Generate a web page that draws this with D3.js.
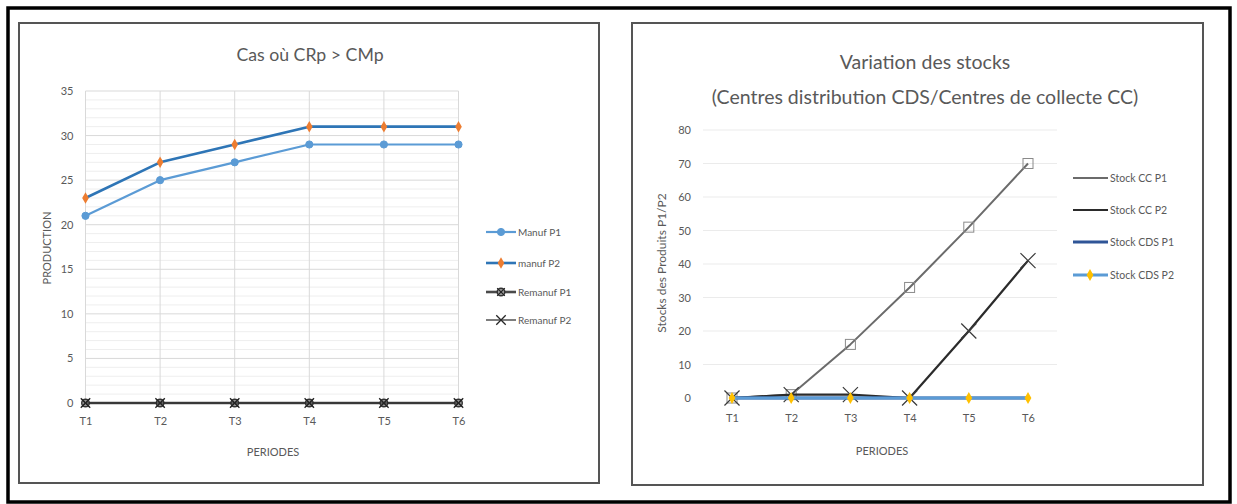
<!DOCTYPE html>
<html><head><meta charset="utf-8">
<script src="https://cdn.jsdelivr.net/npm/d3@7"></script>
<style>
html,body{margin:0;padding:0;background:#fff;}
svg{display:block;}
text{font-family:"Lato","Noto Sans",sans-serif;fill:#595959;}
</style></head>
<body>
<svg id="c" width="1237" height="504"></svg>
<script>
// ---------- data ----------
const periods = ["T1","T2","T3","T4","T5","T6"];
const leftTitle = "Cas où CRp > CMp";
const leftYTicks = [0,5,10,15,20,25,30,35];
const manufP1 = [21,25,27,29,29,29];
const manufP2 = [23,27,29,31,31,31];
const remanufP1 = [0,0,0,0,0,0];
const remanufP2 = [0,0,0,0,0,0];
const leftNames = ["Manuf P1","manuf P2","Remanuf P1","Remanuf P2"];

const rightTitle1 = "Variation des stocks";
const rightTitle2 = "(Centres distribution CDS/Centres de collecte CC)";
const rightYTicks = [0,10,20,30,40,50,60,70,80];
const stockCCP1 = [0,1,16,33,51,70];
const stockCCP2 = [0,1,1,0,20,41];
const stockCDSP1 = [0,0,0,0,0,0];
const stockCDSP2 = [0,0,0,0,0,0];
const rightNames = ["Stock CC P1","Stock CC P2","Stock CDS P1","Stock CDS P2"];

const svg = d3.select("#c");

// outer frame and panels
svg.append("rect").attr("x",8).attr("y",8).attr("width",1222).attr("height",494)
  .attr("fill","#fff").attr("stroke","#000").attr("stroke-width",3.5);
svg.append("rect").attr("x",19).attr("y",23).attr("width",580).attr("height",460)
  .attr("fill","#fff").attr("stroke","#555").attr("stroke-width",2);
svg.append("rect").attr("x",632).attr("y",23).attr("width",571).attr("height",462)
  .attr("fill","#fff").attr("stroke","#555").attr("stroke-width",2);

function symbolPath(type, size){ return d3.symbol().type(type).size(size)(); }

function drawMarker(g, kind, color){
  if(kind==="circle"){
    g.append("circle").attr("r",3.6).attr("fill",color).attr("stroke",color);
  } else if(kind==="diamond"){
    g.append("path").attr("d",symbolPath(d3.symbolDiamond,38)).attr("fill",color);
  } else if(kind==="circlex"){
    g.append("circle").attr("r",3.8).attr("fill","#9a9a9a").attr("stroke","#333").attr("stroke-width",1.4);
    g.append("path").attr("d",symbolPath(d3.symbolX,40)).attr("stroke","#222").attr("stroke-width",1.2).attr("fill","none");
  } else if(kind==="x"){
    g.append("path").attr("d",symbolPath(d3.symbolX,60)).attr("stroke",color).attr("stroke-width",1.3).attr("fill","none");
  } else if(kind==="square"){
    g.append("rect").attr("x",-5).attr("y",-5).attr("width",10).attr("height",10)
      .attr("fill","none").attr("stroke",color).attr("stroke-width",1);
  } else if(kind==="bigx"){
    g.append("path").attr("d",symbolPath(d3.symbolX,150)).attr("stroke",color).attr("stroke-width",1.2).attr("fill","none");
  } else if(kind==="ydot"){
    g.append("path").attr("d",symbolPath(d3.symbolDiamond,40)).attr("fill",color);
  }
}

function drawSeries(g, x, y, values, s){
  const line = d3.line().x((d,i)=>x(periods[i])).y(d=>y(d));
  g.append("path").datum(values).attr("d",line).attr("fill","none")
    .attr("stroke",s.color).attr("stroke-width",s.width).attr("stroke-linejoin","round");
  if(s.marker){
    values.forEach((v,i)=>{
      const m = g.append("g").attr("transform",`translate(${x(periods[i])},${y(v)})`);
      drawMarker(m, s.marker, s.mcolor);
    });
  }
}

// ---------- LEFT CHART ----------
{
  const x = d3.scalePoint().domain(periods).range([85.5,458.5]);
  const y = d3.scaleLinear().domain([0,35]).range([403,91]);
  const g = svg.append("g");
  g.append("g").selectAll("line").data(d3.range(0,36,1).filter(v=>v%5!==0)).join("line")
    .attr("x1",85.5).attr("x2",458.5).attr("y1",d=>y(d)).attr("y2",d=>y(d))
    .attr("stroke","#eeeeee").attr("stroke-width",1);
  g.append("g").selectAll("line").data(leftYTicks).join("line")
    .attr("x1",85.5).attr("x2",458.5).attr("y1",d=>y(d)).attr("y2",d=>y(d))
    .attr("stroke","#d9d9d9").attr("stroke-width",1);
  g.append("g").selectAll("line").data(periods).join("line")
    .attr("x1",d=>x(d)).attr("x2",d=>x(d)).attr("y1",y(35)).attr("y2",y(0))
    .attr("stroke","#d9d9d9").attr("stroke-width",1);

  const ya = g.append("g").attr("transform","translate(85.5,0)")
    .call(d3.axisLeft(y).tickValues(leftYTicks).tickSize(0).tickPadding(12));
  ya.select(".domain").remove();
  ya.selectAll("text").attr("fill","#595959").style("font-size","11px");
  const xa = g.append("g").attr("transform","translate(0,403)")
    .call(d3.axisBottom(x).tickSize(0).tickPadding(14));
  xa.select(".domain").remove();
  xa.selectAll("text").attr("fill","#595959").style("font-size","11px");

  const series = [
    {v:manufP1,color:"#5b9bd5",width:2.2,marker:"circle",mcolor:"#5b9bd5"},
    {v:manufP2,color:"#2e75b6",width:2.6,marker:"diamond",mcolor:"#ed7d31"},
    {v:remanufP1,color:"#4a4a4a",width:2.6,marker:"circlex",mcolor:"#333"},
    {v:remanufP2,color:"#262626",width:1.2,marker:"x",mcolor:"#262626"}
  ];
  series.forEach(s=>drawSeries(g,x,y,s.v,s));

  g.append("text").attr("x",310).attr("y",61).attr("text-anchor","middle")
    .style("font-size","17.7px").text(leftTitle);
  g.append("text").attr("x",273).attr("y",456).attr("text-anchor","middle")
    .style("font-size","11px").text("PERIODES");
  g.append("text").attr("transform","translate(51,248) rotate(-90)").attr("text-anchor","middle")
    .style("font-size","11px").text("PRODUCTION");

  const ly = [232,263,292,320];
  series.forEach((s,i)=>{
    const lg = g.append("g").attr("transform",`translate(0,${ly[i]})`);
    lg.append("line").attr("x1",486).attr("x2",516).attr("y1",0).attr("y2",0)
      .attr("stroke",s.color).attr("stroke-width",s.width);
    const m = lg.append("g").attr("transform","translate(501,0)");
    drawMarker(m,s.marker,s.mcolor);
    lg.append("text").attr("x",518).attr("y",4).style("font-size","10px").text(leftNames[i]);
  });
}

// ---------- RIGHT CHART ----------
{
  const x = d3.scalePoint().domain(periods).range([732,1028]);
  const y = d3.scaleLinear().domain([0,80]).range([398,130]);
  const g = svg.append("g");
  g.append("g").selectAll("line").data(rightYTicks.filter(v=>v>0)).join("line")
    .attr("x1",703).attr("x2",1057).attr("y1",d=>y(d)).attr("y2",d=>y(d))
    .attr("stroke","#ebebeb").attr("stroke-width",1);

  const ya = g.append("g").attr("transform","translate(703,0)")
    .call(d3.axisLeft(y).tickValues(rightYTicks).tickSize(0).tickPadding(12));
  ya.select(".domain").remove();
  ya.selectAll("text").attr("fill","#595959").style("font-size","11px");
  const xa = g.append("g").attr("transform","translate(0,398)")
    .call(d3.axisBottom(x).tickSize(0).tickPadding(16));
  xa.select(".domain").remove();
  xa.selectAll("text").attr("fill","#595959").style("font-size","11px");

  const series = [
    {v:stockCCP1,color:"#6b6b6b",width:2,marker:"square",mcolor:"#8a8a8a"},
    {v:stockCCP2,color:"#2b2b2b",width:2.2,marker:"bigx",mcolor:"#3a3a3a"},
    {v:stockCDSP1,color:"#2f5597",width:3,marker:null,mcolor:"#2f5597"},
    {v:stockCDSP2,color:"#5b9bd5",width:3,marker:"ydot",mcolor:"#ffc000"}
  ];
  series.forEach(s=>drawSeries(g,x,y,s.v,s));

  g.append("text").attr("x",925).attr("y",69).attr("text-anchor","middle")
    .style("font-size","19.5px").text(rightTitle1);
  g.append("text").attr("x",925).attr("y",104).attr("text-anchor","middle")
    .style("font-size","19.5px").text(rightTitle2);
  g.append("text").attr("x",882).attr("y",455).attr("text-anchor","middle")
    .style("font-size","11px").text("PERIODES");
  g.append("text").attr("transform","translate(666,263) rotate(-90)").attr("text-anchor","middle")
    .style("font-size","12px").text("Stocks des Produits P1/P2");

  const ly = [178,210,242,275];
  series.forEach((s,i)=>{
    const lg = g.append("g").attr("transform",`translate(0,${ly[i]})`);
    lg.append("line").attr("x1",1073).attr("x2",1108).attr("y1",0).attr("y2",0)
      .attr("stroke",s.color).attr("stroke-width",s.width);
    if(s.marker==="ydot"){
      const m = lg.append("g").attr("transform","translate(1090,0)");
      drawMarker(m,s.marker,s.mcolor);
    }
    lg.append("text").attr("x",1110).attr("y",4).style("font-size","10.5px").text(rightNames[i]);
  });
}
</script>
</body></html>
